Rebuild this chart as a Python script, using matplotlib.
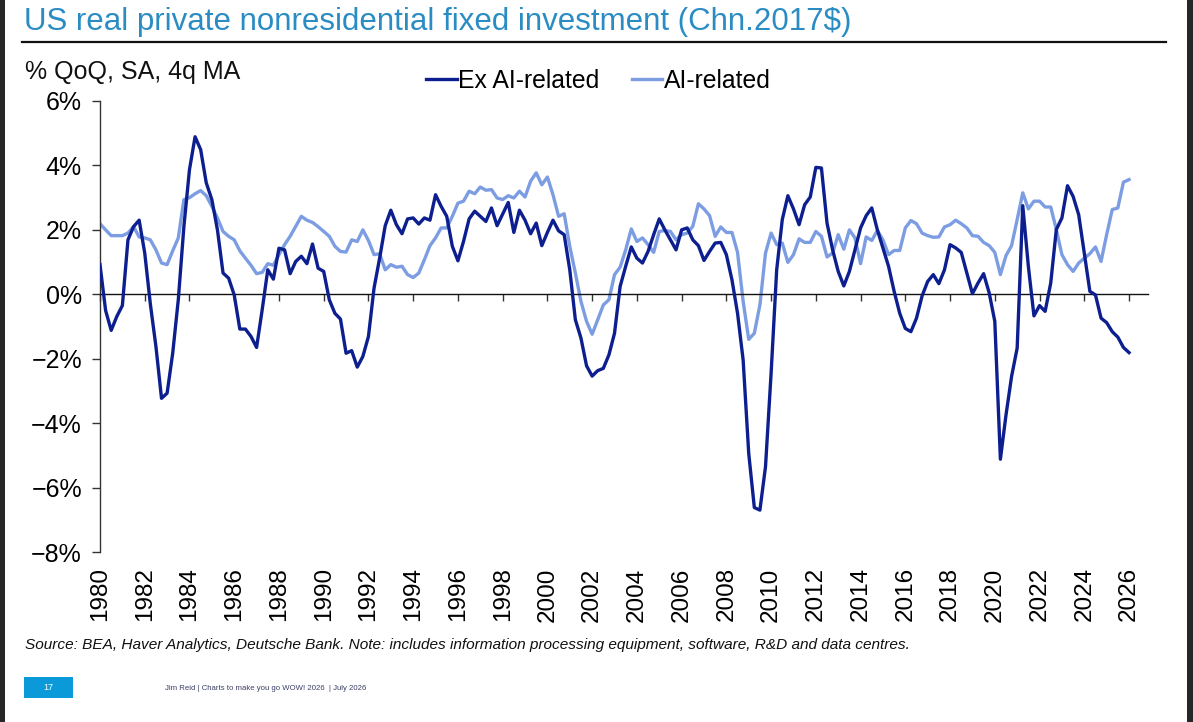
import numpy as np
import matplotlib
matplotlib.use("Agg")
import matplotlib.pyplot as plt
from matplotlib.patches import Rectangle
from matplotlib.lines import Line2D

# ---------------- data (quarterly, 1980Q1 .. 2026Q1) ----------------
start_year = 1980
ex_ai = [
    0.92, -0.50, -1.12, -0.69,   # 1980
    -0.35, 1.69, 2.10, 2.30,     # 1981
    1.28, -0.30, -1.62, -3.23,   # 1982
    -3.07, -1.83, -0.17, 2.10,   # 1983
    3.87, 4.89, 4.49, 3.46,      # 1984
    2.94, 2.00, 0.66, 0.50,      # 1985
    -0.02, -1.08, -1.08, -1.31,  # 1986
    -1.65, -0.48, 0.76, 0.47,    # 1987
    1.43, 1.38, 0.64, 1.02,      # 1988
    1.18, 0.95, 1.56, 0.81,      # 1989
    0.71, -0.17, -0.59, -0.77,   # 1990
    -1.83, -1.75, -2.26, -1.93,  # 1991
    -1.31, 0.19, 1.12, 2.13,     # 1992
    2.61, 2.16, 1.88, 2.34,      # 1993
    2.37, 2.18, 2.37, 2.30,      # 1994
    3.09, 2.73, 2.42, 1.49,      # 1995
    1.04, 1.64, 2.34, 2.58,      # 1996
    2.42, 2.26, 2.68, 2.13,      # 1997
    2.49, 2.85, 1.92, 2.61,      # 1998
    2.30, 1.88, 2.21, 1.51,      # 1999
    1.92, 2.30, 1.97, 1.85,      # 2000
    0.76, -0.79, -1.36, -2.22,   # 2001
    -2.54, -2.37, -2.30, -1.88,  # 2002
    -1.21, 0.24, 0.87, 1.47,     # 2003
    1.12, 0.97, 1.33, 1.85,      # 2004
    2.34, 2.00, 1.69, 1.38,      # 2005
    2.00, 2.06, 1.69, 1.51,      # 2006
    1.05, 1.33, 1.59, 1.61,      # 2007
    1.23, 0.45, -0.59, -2.04,    # 2008
    -4.94, -6.62, -6.70, -5.35,  # 2009
    -2.45, 0.76, 2.32, 3.06,     # 2010
    2.65, 2.16, 2.78, 3.02,      # 2011
    3.94, 3.92, 2.21, 1.38,      # 2012
    0.71, 0.26, 0.71, 1.38,      # 2013
    2.06, 2.44, 2.68, 2.00,      # 2014
    1.44, 0.87, 0.09, -0.59,     # 2015
    -1.06, -1.16, -0.74, -0.05,  # 2016
    0.40, 0.61, 0.33, 0.76,      # 2017
    1.54, 1.44, 1.30, 0.66,      # 2018
    0.02, 0.35, 0.64, 0.04,      # 2019
    -0.84, -5.12, -3.75, -2.55,  # 2020
    -1.67, 2.75, 0.87, -0.67,    # 2021
    -0.35, -0.53, 0.35, 2.01,    # 2022
    2.37, 3.37, 3.04, 2.47,      # 2023
    1.28, 0.09, -0.02, -0.74,    # 2024
    -0.88, -1.16, -1.33, -1.65,  # 2025
    -1.81,                       # 2026
]
ai_related = [
    2.19, 2.00, 1.82, 1.82,      # 1980
    1.82, 1.90, 2.10, 1.78,      # 1981
    1.75, 1.69, 1.38, 0.97,      # 1982
    0.92, 1.35, 1.75, 2.94,      # 1983
    3.00, 3.12, 3.22, 3.06,      # 1984
    2.73, 2.37, 1.95, 1.80,      # 1985
    1.69, 1.35, 1.12, 0.90,      # 1986
    0.64, 0.68, 0.95, 0.90,      # 1987
    1.23, 1.54, 1.80, 2.11,      # 1988
    2.42, 2.30, 2.23, 2.10,      # 1989
    1.95, 1.80, 1.49, 1.33,      # 1990
    1.31, 1.69, 1.64, 2.00,      # 1991
    1.67, 1.23, 1.26, 0.76,      # 1992
    0.92, 0.84, 0.87, 0.61,      # 1993
    0.52, 0.66, 1.07, 1.51,      # 1994
    1.75, 2.06, 2.06, 2.42,      # 1995
    2.83, 2.89, 3.20, 3.12,      # 1996
    3.33, 3.23, 3.25, 2.99,      # 1997
    2.94, 3.06, 2.99, 3.20,      # 1998
    3.02, 3.51, 3.77, 3.40,      # 1999
    3.64, 3.09, 2.42, 2.50,      # 2000
    1.49, 0.66, -0.22, -0.84,    # 2001
    -1.24, -0.79, -0.33, -0.17,  # 2002
    0.61, 0.84, 1.38, 2.03,      # 2003
    1.64, 1.75, 1.54, 1.30,      # 2004
    1.95, 1.98, 1.95, 1.69,      # 2005
    1.85, 1.90, 2.11, 2.81,      # 2006
    2.65, 2.44, 1.80, 2.09,      # 2007
    1.92, 1.92, 1.30, -0.22,     # 2008
    -1.40, -1.21, -0.33, 1.28,   # 2009
    1.90, 1.54, 1.59, 0.99,      # 2010
    1.23, 1.72, 1.61, 1.61,      # 2011
    1.95, 1.80, 1.16, 1.28,      # 2012
    1.85, 1.40, 2.00, 1.75,      # 2013
    0.95, 1.78, 1.67, 1.98,      # 2014
    1.69, 1.23, 1.36, 1.36,      # 2015
    2.06, 2.29, 2.19, 1.90,      # 2016
    1.82, 1.77, 1.78, 2.09,      # 2017
    2.16, 2.30, 2.19, 2.06,      # 2018
    1.82, 1.80, 1.61, 1.51,      # 2019
    1.30, 0.61, 1.20, 1.51,      # 2020
    2.32, 3.15, 2.65, 2.89,      # 2021
    2.89, 2.71, 2.71, 2.01,      # 2022
    1.23, 0.92, 0.71, 0.97,      # 2023
    1.12, 1.26, 1.47, 1.02,      # 2024
    1.85, 2.63, 2.68, 3.48,      # 2025
    3.56,                        # 2026
]
year_ticks = list(range(1980, 2027, 2))
y_ticks = [-8, -6, -4, -2, 0, 2, 4, 6]

title = "US real private nonresidential fixed investment (Chn.2017$)"
unit_label = "% QoQ, SA, 4q MA"
series_names = ["Ex AI-related", "AI-related"]
source = ("Source: BEA, Haver Analytics, Deutsche Bank. Note: includes information processing "
          "equipment, software, R&D and data centres.")
footer = "Jim Reid | Charts to make you go WOW! 2026  | July 2026"
page_no = "17"

# ---------------- styling ----------------
DARK = "#0d1f8f"
LIGHT = "#7d9de3"
TITLE_C = "#2b8cc4"
SANS = ["Liberation Sans", "DejaVu Sans"]

W, H = 1193, 722
fig = plt.figure(figsize=(W / 100, H / 100), dpi=100)
fig.patch.set_facecolor("white")

def fx(px):
    return px / W

def fy(py):
    return 1 - py / H

# page edges (dark frame of the screenshot)
fig.patches.append(Rectangle((0, 0), fx(5), 1, transform=fig.transFigure,
                             facecolor="#262626", edgecolor="none"))
fig.patches.append(Rectangle((fx(1187), 0), fx(6), 1, transform=fig.transFigure,
                             facecolor="#262626", edgecolor="none"))

# title + rule
fig.text(fx(24), fy(22), title, family=SANS, fontsize=22.5, color=TITLE_C,
         va="center", ha="left")
fig.add_artist(Line2D([fx(22), fx(1166)], [fy(42), fy(42)], transform=fig.transFigure,
                      color="#111111", lw=1.6))

# axes
left, right, top, bottom = 100, 1148, 101, 552
ax = fig.add_axes([fx(left), fy(bottom), fx(right - left), (bottom - top) / H])

q = np.arange(len(ex_ai))
xs = start_year + q / 4.0
ax.plot(xs, ex_ai, color=DARK, lw=2.4, solid_joinstyle="round", zorder=3,
        label=series_names[0])
ax.plot(xs, ai_related, color=LIGHT, lw=2.4, solid_joinstyle="round", zorder=2,
        label=series_names[1])

ax.set_xlim(1980, 1980 + (right - left) / 22.37)
ax.set_ylim(-8, 6)

for s in ["top", "right"]:
    ax.spines[s].set_visible(False)
ax.spines["left"].set_color("#333333")
ax.spines["left"].set_linewidth(1.0)
ax.spines["bottom"].set_position(("data", 0))
ax.spines["bottom"].set_color("#111111")
ax.spines["bottom"].set_linewidth(1.0)

ax.set_yticks(y_ticks)
ax.set_yticklabels([f"{v}%".replace("-", "\u2212") for v in y_ticks], family=SANS,
                   fontsize=18)
ax.tick_params(axis="y", direction="out", length=6, width=1, color="#333333", pad=7)

ax.set_xticks(year_ticks)
ax.tick_params(axis="x", direction="out", length=5, width=1, color="#333333",
               labelbottom=False)

sec = ax.secondary_xaxis("bottom")
sec.set_xticks(year_ticks)
sec.set_xticklabels([str(y) for y in year_ticks], rotation=90, family=SANS, fontsize=17.5)
sec.tick_params(axis="x", length=0, pad=11)
sec.spines["bottom"].set_visible(False)

# unit label and legend
fig.text(fx(25), fy(72), unit_label, family=SANS, fontsize=18, color="#111111",
         va="center", ha="left")
leg = ax.legend(loc="upper left", bbox_to_anchor=(fx(426), fy(69)),
                bbox_transform=fig.transFigure, ncol=2, frameon=False,
                prop={"family": SANS, "size": 17.8}, handlelength=1.25,
                handletextpad=0.05, columnspacing=1.3, borderaxespad=0, borderpad=0)

# source note
fig.text(fx(25), fy(645), source, family=SANS, style="italic", fontsize=11.1,
         color="#111111", va="center", ha="left")

# footer
fig.patches.append(Rectangle((fx(24), fy(698)), fx(49), (698 - 677) / H,
                             transform=fig.transFigure, facecolor="#0b9ad9",
                             edgecolor="none"))
fig.text(fx(48.5), fy(687), page_no, family=SANS, fontsize=6.5, color="white",
         va="center", ha="center")
fig.text(fx(165), fy(688), footer, family=SANS, fontsize=5.6, color="#3c3f66",
         va="center", ha="left")

fig.savefig("out.png", dpi=100, facecolor="white")
